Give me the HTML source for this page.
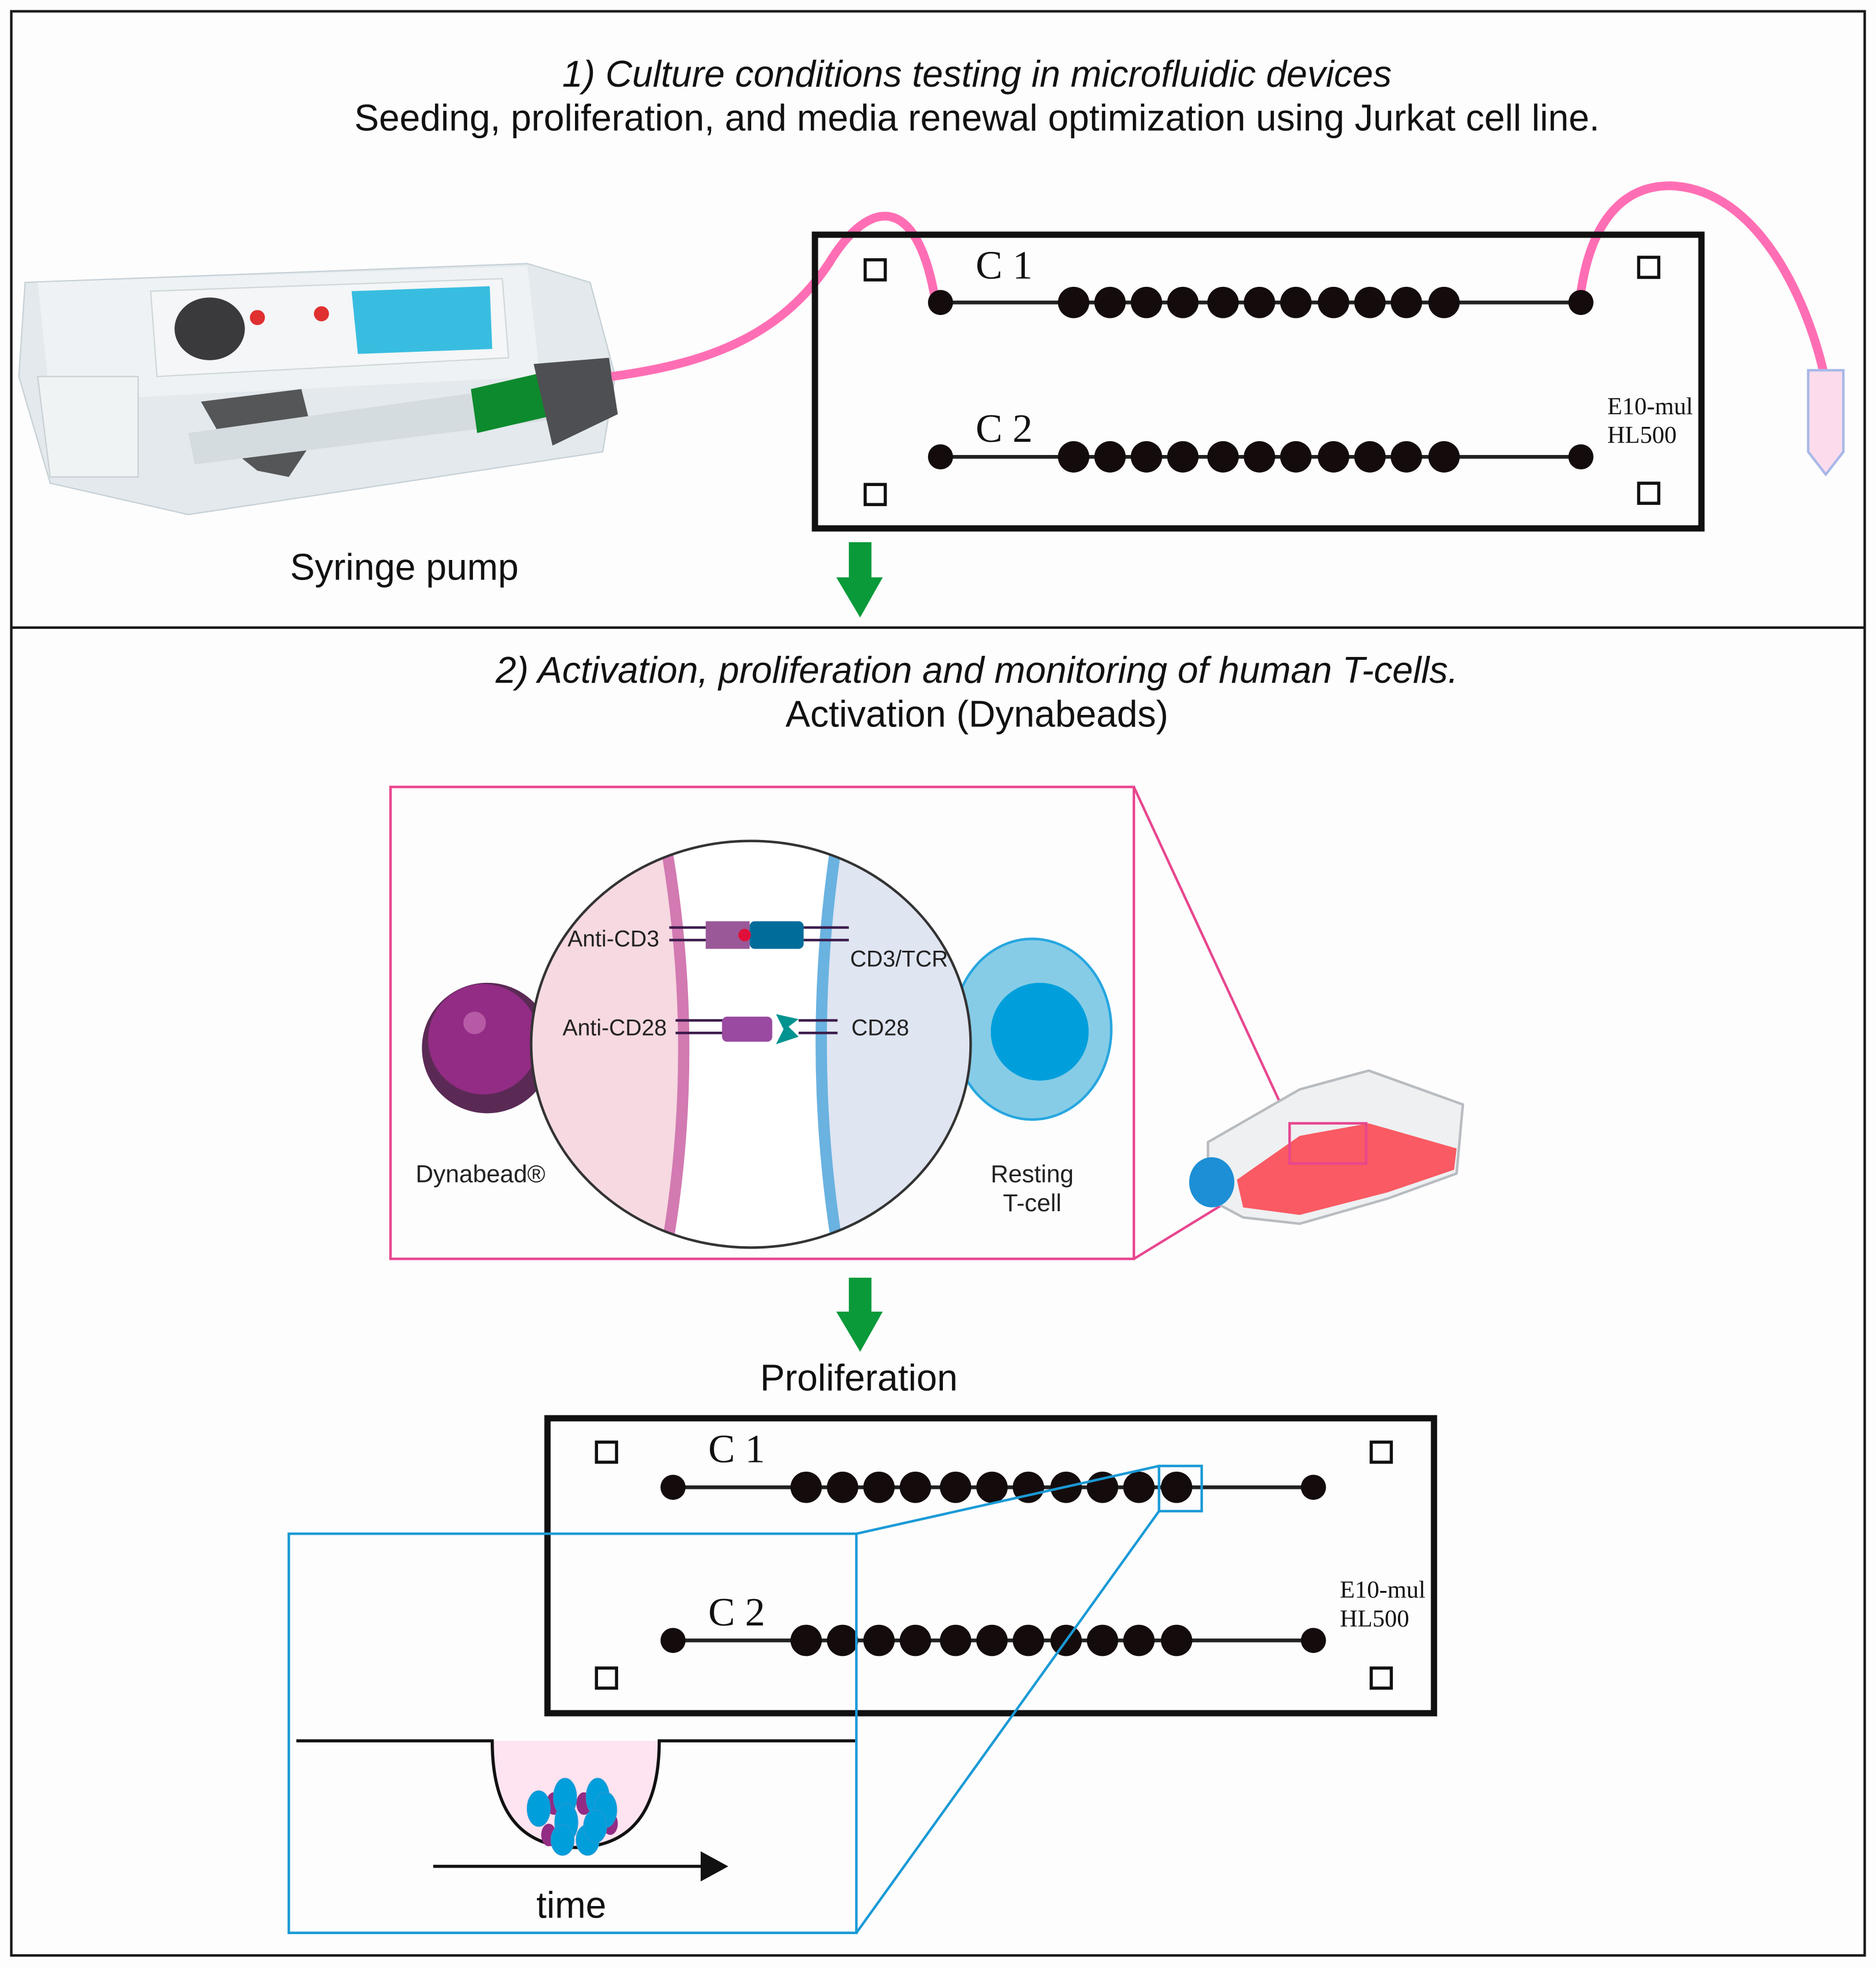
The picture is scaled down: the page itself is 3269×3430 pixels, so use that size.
<!DOCTYPE html>
<html><head><meta charset="utf-8"><style>html,body{margin:0;padding:0;background:#fff}svg{display:block}</style></head>
<body>
<svg width="3269" height="3430" viewBox="0 0 1494 1568" preserveAspectRatio="none" xmlns="http://www.w3.org/2000/svg">
<defs>
<g id="b1" fill="#140c0c"><circle cx="855" r="12.5"/><circle cx="884" r="12.5"/><circle cx="913" r="12.5"/><circle cx="942" r="12.5"/><circle cx="974" r="12.5"/><circle cx="1003" r="12.5"/><circle cx="1032" r="12.5"/><circle cx="1062" r="12.5"/><circle cx="1091" r="12.5"/><circle cx="1120" r="12.5"/><circle cx="1150" r="12.5"/></g>
<clipPath id="el"><ellipse cx="598" cy="832" rx="175" ry="162"/></clipPath>
</defs>
<rect width="1494" height="1568" fill="#fdfdfd"/>
<rect x="9" y="9" width="1476" height="1549" fill="none" stroke="#1a1a1a" stroke-width="2"/>
<line x1="9" y1="500" x2="1485" y2="500" stroke="#1a1a1a" stroke-width="2"/>
<!-- syringe pump -->
<g>
<path d="M20 225 L420 210 L470 225 L490 300 L480 360 L150 410 L40 385 L15 300 Z" fill="#e3e9ec" stroke="#c5d0d6"/>
<path d="M30 225 L420 212 L430 300 L40 320 Z" fill="#eef2f4"/>
<path d="M120 232 L400 222 L405 285 L125 300 Z" fill="#f4f6f7" stroke="#cfd6da"/>
<ellipse cx="167" cy="262" rx="28" ry="25" fill="#3a3a3c"/>
<path d="M280 232 L390 228 L392 278 L285 282 Z" fill="#38bde0"/>
<circle cx="205" cy="253" r="6" fill="#e03030"/><circle cx="256" cy="250" r="6" fill="#e03030"/>
<path d="M160 320 L240 310 L250 350 L230 380 L205 375 L180 355 Z" fill="#555658"/>
<path d="M150 345 L470 300 L475 330 L155 370 Z" fill="#d5dcdf"/>
<path d="M375 310 L440 295 L445 330 L380 345 Z" fill="#0d8a2d"/>
<path d="M425 290 L485 285 L492 330 L440 355 Z" fill="#4e4f52"/>
<path d="M30 300 L110 300 L110 380 L40 380 Z" fill="#f0f3f4" stroke="#c8d0d4"/>
</g>
<!-- pink tubes -->
<path d="M487 300 C560 290 620 270 660 210 C690 160 730 150 745 240" fill="none" stroke="#ff6eb4" stroke-width="7"/>
<path d="M1258 240 C1265 180 1290 148 1330 148 C1400 150 1440 240 1453 300" fill="none" stroke="#ff6eb4" stroke-width="7"/>
<path d="M1440 295 L1468 295 L1468 360 L1454 378 L1440 360 Z" fill="#fcdcec" stroke="#a8b8e8" stroke-width="2"/>
<!-- chip 1 -->
<rect x="649" y="187" width="706" height="234" fill="none" stroke="#111" stroke-width="5"/>
<g fill="none" stroke="#111" stroke-width="2.5">
<rect x="689" y="207" width="16" height="16"/><rect x="1305" y="205" width="16" height="16"/>
<rect x="689" y="386" width="16" height="16"/><rect x="1305" y="385" width="16" height="16"/>
<rect x="475" y="1149" width="16" height="16"/><rect x="1092" y="1149" width="16" height="16"/>
<rect x="475" y="1329" width="16" height="16"/><rect x="1092" y="1329" width="16" height="16"/>
</g>
<g font-family="Liberation Serif, serif" fill="#111">
<text x="777" y="222" font-size="32">C 1</text><text x="777" y="352" font-size="32">C 2</text>
<text x="1280" y="330" font-size="19.5">E10-mul</text><text x="1280" y="353" font-size="19.5">HL500</text>
<text x="564" y="1165" font-size="32">C 1</text><text x="564" y="1295" font-size="32">C 2</text>
<text x="1067" y="1273" font-size="19.5">E10-mul</text><text x="1067" y="1296" font-size="19.5">HL500</text>
</g>
<g stroke="#222" stroke-width="3">
<line x1="749" y1="241" x2="1259" y2="241"/><line x1="749" y1="364" x2="1259" y2="364"/>
<line x1="536" y1="1185" x2="1046" y2="1185"/><line x1="536" y1="1307" x2="1046" y2="1307"/>
</g>
<g fill="#140c0c">
<circle cx="749" cy="241" r="10"/><circle cx="1259" cy="241" r="10"/><circle cx="749" cy="364" r="10"/><circle cx="1259" cy="364" r="10"/>
<circle cx="536" cy="1185" r="10"/><circle cx="1046" cy="1185" r="10"/><circle cx="536" cy="1307" r="10"/><circle cx="1046" cy="1307" r="10"/>
</g>
<use href="#b1" transform="translate(0,241)"/>
<use href="#b1" transform="translate(0,364)"/>
<use href="#b1" transform="translate(-213,1185)"/>
<use href="#b1" transform="translate(-213,1307)"/>
<!-- green arrows -->
<path d="M676 432 H694 V460 H703 L685 492 L666 460 H676 Z" fill="#0a9a3a"/>
<path d="M676 1018 H694 V1045 H703 L685 1077 L666 1045 H676 Z" fill="#0a9a3a"/>
<!-- pink box -->
<rect x="311" y="627" width="592" height="376" fill="none" stroke="#e8468f" stroke-width="2"/>
<line x1="903" y1="627" x2="1027" y2="895" stroke="#e8468f" stroke-width="2"/>
<line x1="903" y1="1003" x2="1027" y2="927" stroke="#e8468f" stroke-width="2"/>
<!-- dynabead & t-cell -->
<circle cx="388" cy="835" r="52" fill="#5a2a55"/><circle cx="385" cy="828" r="44" fill="#922c84"/><circle cx="378" cy="815" r="9" fill="#b65aa5"/>
<ellipse cx="822" cy="820" rx="63" ry="72" fill="#86cce6" stroke="#26a6e0" stroke-width="2"/>
<circle cx="828" cy="822" r="39" fill="#009fdc"/>
<g clip-path="url(#el)">
<rect x="420" y="660" width="360" height="340" fill="#fff"/>
<path d="M420 660 L528 660 Q560 832 530 1000 L420 1000 Z" fill="#f6d9e1"/>
<path d="M780 660 L668 660 Q640 832 668 1000 L780 1000 Z" fill="#dfe5f1"/>
<path d="M528 660 Q560 832 530 1000" fill="none" stroke="#d27ab1" stroke-width="9"/>
<path d="M668 660 Q640 832 668 1000" fill="none" stroke="#6ab2e0" stroke-width="9"/>
</g>
<ellipse cx="598" cy="832" rx="175" ry="162" fill="none" stroke="#333" stroke-width="2"/>
<g stroke="#3a1a4a" stroke-width="2">
<line x1="533" y1="739" x2="565" y2="739"/><line x1="533" y1="749" x2="565" y2="749"/>
<line x1="538" y1="813" x2="577" y2="813"/><line x1="538" y1="823" x2="577" y2="823"/>
<line x1="640" y1="739" x2="676" y2="739"/><line x1="640" y1="749" x2="676" y2="749"/>
<line x1="636" y1="813" x2="667" y2="813"/><line x1="636" y1="823" x2="667" y2="823"/>
</g>
<rect x="562" y="734" width="35" height="22" fill="#9a5898"/>
<rect x="597" y="734" width="43" height="22" rx="4" fill="#006c9a"/>
<circle cx="593" cy="745" r="5" fill="#e0103a"/>
<rect x="575" y="810" width="40" height="20" rx="4" fill="#9a4aa0"/>
<path d="M618 808 L636 812 L628 818 L636 826 L618 832 L624 820 Z" fill="#00938f"/>
<g font-family="Liberation Sans, sans-serif" font-size="18" fill="#222">
<text x="452" y="754">Anti-CD3</text><text x="448" y="825">Anti-CD28</text>
<text x="677" y="770">CD3/TCR</text><text x="678" y="825">CD28</text>
<text x="331" y="942" font-size="19.5">Dynabead®</text>
<text x="822" y="942" text-anchor="middle" font-size="19.5">Resting</text><text x="822" y="965" text-anchor="middle" font-size="19.5">T-cell</text>
</g>
<!-- flask -->
<path d="M962 910 L1035 868 L1090 853 L1165 880 L1160 935 L1105 955 L1035 975 L990 970 L962 955 Z" fill="#eef0f2" stroke="#b8bcc0" stroke-width="2"/>
<path d="M985 940 L1035 905 L1090 895 L1160 915 L1158 932 L1105 950 L1035 968 L990 962 Z" fill="#f95a63"/>
<rect x="1027" y="895" width="61" height="32" fill="none" stroke="#e8468f" stroke-width="2"/>
<ellipse cx="965" cy="942" rx="18" ry="20" fill="#1d8fd6"/>
<!-- chip 2 -->
<rect x="436" y="1130" width="706" height="235" fill="none" stroke="#111" stroke-width="5"/>
<!-- blue zoom -->
<rect x="923" y="1168" width="34" height="36" fill="none" stroke="#1a9ad6" stroke-width="2"/>
<rect x="230" y="1222" width="452" height="318" fill="none" stroke="#1a9ad6" stroke-width="2"/>
<line x1="682" y1="1222" x2="923" y2="1168" stroke="#1a9ad6" stroke-width="2"/>
<line x1="682" y1="1540" x2="923" y2="1204" stroke="#1a9ad6" stroke-width="2"/>
<path d="M392 1387 Q392 1472 460 1472 Q525 1470 525 1387 Z" fill="#fde4f0"/>
<path d="M236 1387 H392 Q392 1472 460 1472 Q525 1470 525 1387 H681" fill="none" stroke="#111" stroke-width="2.5"/>
<g fill="#922c84"><ellipse cx="441" cy="1437" rx="6" ry="9"/><ellipse cx="465" cy="1437" rx="6" ry="9"/><ellipse cx="437" cy="1462" rx="6" ry="9"/><ellipse cx="486" cy="1453" rx="6" ry="9"/></g>
<g fill="#009fdc" stroke="#1a9ad6"><ellipse cx="429" cy="1441" rx="9" ry="14"/><ellipse cx="450" cy="1432" rx="9" ry="15"/><ellipse cx="476" cy="1432" rx="9" ry="15"/><ellipse cx="451" cy="1452" rx="9" ry="15"/><ellipse cx="482" cy="1442" rx="9" ry="14"/><ellipse cx="448" cy="1466" rx="9" ry="12"/><ellipse cx="468" cy="1466" rx="9" ry="12"/><ellipse cx="474" cy="1455" rx="9" ry="13"/></g>
<line x1="345" y1="1487" x2="562" y2="1487" stroke="#111" stroke-width="2.5"/>
<path d="M558 1475 L580 1487 L558 1499 Z" fill="#111"/>
<g font-family="Liberation Sans, sans-serif" fill="#111" text-anchor="middle">
<text x="778" y="69" font-size="29.5" font-style="italic">1) Culture conditions testing in microfluidic devices</text>
<text x="778" y="104" font-size="29.5">Seeding, proliferation, and media renewal optimization using Jurkat cell line.</text>
<text x="322" y="462" font-size="29.5">Syringe pump</text>
<text x="778" y="544" font-size="29.5" font-style="italic">2) Activation, proliferation and monitoring of human T-cells.</text>
<text x="778" y="579" font-size="29.5">Activation (Dynabeads)</text>
<text x="684" y="1108" font-size="29.5">Proliferation</text>
<text x="455" y="1528" font-size="29.5">time</text>
</g>
</svg>
</body></html>
